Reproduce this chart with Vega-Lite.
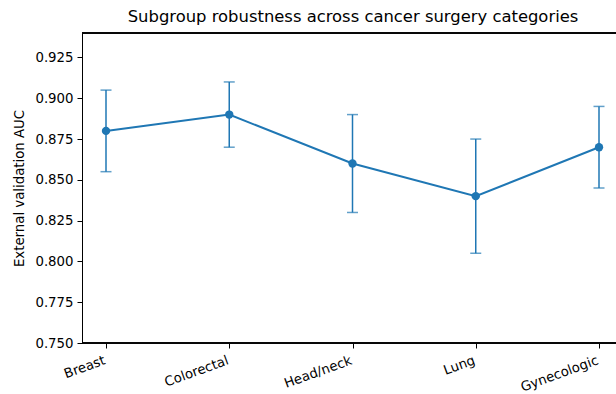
{
  "$schema": "https://vega.github.io/schema/vega-lite/v6.json",
  "autosize": "none",
  "width": 534,
  "height": 310,
  "padding": {"left": 82, "top": 33, "right": 0, "bottom": 51},
  "background": "white",
  "title": {
    "text": "Subgroup robustness across cancer surgery categories",
    "font": "DejaVu Sans",
    "fontSize": 16.4,
    "fontWeight": "normal",
    "color": "black",
    "anchor": "middle",
    "dx": 4,
    "offset": 7
  },
  "config": {
    "view": {"stroke": null},
    "axis": {
      "grid": false,
      "domainColor": "black",
      "domainWidth": 1,
      "tickColor": "black",
      "tickSize": 5,
      "tickWidth": 1,
      "labelColor": "black",
      "labelFont": "DejaVu Sans",
      "labelFontSize": 13.3,
      "titleFont": "DejaVu Sans",
      "titleFontSize": 13.3,
      "titleFontWeight": "normal",
      "titleColor": "black"
    }
  },
  "data": {
    "values": [
      {"category": "Breast", "auc": 0.88, "lo": 0.855, "hi": 0.905},
      {"category": "Colorectal", "auc": 0.89, "lo": 0.87, "hi": 0.91},
      {"category": "Head/neck", "auc": 0.86, "lo": 0.83, "hi": 0.89},
      {"category": "Lung", "auc": 0.84, "lo": 0.805, "hi": 0.875},
      {"category": "Gynecologic", "auc": 0.87, "lo": 0.845, "hi": 0.895}
    ]
  },
  "encoding": {
    "x": {
      "field": "category",
      "type": "nominal",
      "sort": null,
      "scale": {"type": "point", "range": [24, 517], "padding": 0},
      "axis": {
        "title": null,
        "domain": false,
        "labelAngle": -20,
        "labelAlign": "right",
        "labelBaseline": "top",
        "labelPadding": 5,
        "labelOffset": -4
      }
    }
  },
  "layer": [
    {
      "mark": {"type": "rule", "color": "#1f77b4", "strokeWidth": 1.5},
      "encoding": {
        "y": {
          "field": "lo",
          "type": "quantitative",
          "scale": {"domain": [0.75, 0.94], "nice": false, "zero": false},
          "axis": {
            "title": "External validation AUC",
            "values": [0.75, 0.775, 0.8, 0.825, 0.85, 0.875, 0.9, 0.925],
            "format": ".3f",
            "labelPadding": 4,
            "titlePadding": 8
          }
        },
        "y2": {"field": "hi"}
      }
    },
    {
      "mark": {"type": "tick", "orient": "horizontal", "color": "#1f77b4", "size": 11, "thickness": 1.5},
      "encoding": {"y": {"field": "lo", "type": "quantitative"}}
    },
    {
      "mark": {"type": "tick", "orient": "horizontal", "color": "#1f77b4", "size": 11, "thickness": 1.5},
      "encoding": {"y": {"field": "hi", "type": "quantitative"}}
    },
    {
      "mark": {
        "type": "line",
        "color": "#1f77b4",
        "strokeWidth": 2,
        "point": {"filled": true, "size": 70, "color": "#1f77b4", "opacity": 1}
      },
      "encoding": {"y": {"field": "auc", "type": "quantitative"}}
    },
    {
      "mark": {"type": "rule", "color": "black", "strokeWidth": 1},
      "encoding": {"y": {"datum": 0.94}, "x": {"value": 0}, "x2": {"value": 534}}
    },
    {
      "mark": {"type": "rule", "color": "black", "strokeWidth": 1},
      "encoding": {"y": {"datum": 0.75}, "x": {"value": 0}, "x2": {"value": 534}}
    }
  ]
}
